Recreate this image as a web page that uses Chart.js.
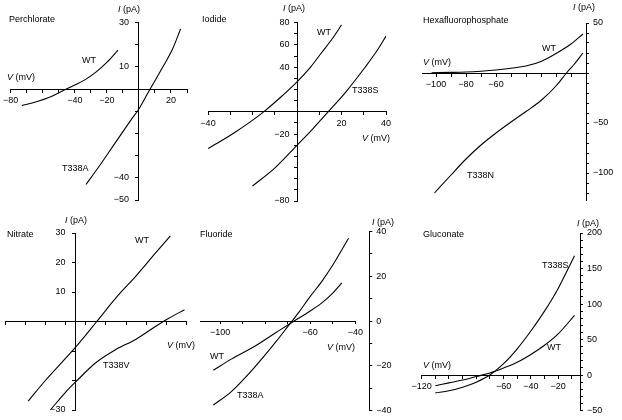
<!DOCTYPE html>
<html>
<head>
<meta charset="utf-8">
<script src="https://cdn.jsdelivr.net/npm/chart.js@4"></script>
<style>
  body { margin: 0; background: #fff; }
  #fig { position: relative; width: 622px; height: 420px; overflow: hidden;
         font-family: "Liberation Sans", Arial, sans-serif; font-size: 9px; color: #000; }
  #fig canvas { position: absolute; left: 0; top: 0; }
  .t { position: absolute; white-space: nowrap; line-height: 10px; }
  .t i { font-style: italic; }
</style>
</head>
<body>
<div id="fig">
  <canvas id="p1" width="622" height="420"></canvas>
  <canvas id="p2" width="622" height="420"></canvas>
  <canvas id="p3" width="622" height="420"></canvas>
  <canvas id="p4" width="622" height="420"></canvas>
  <canvas id="p5" width="622" height="420"></canvas>
  <canvas id="p6" width="622" height="420"></canvas>

  <div class="t" style="left:9px;top:14px">Perchlorate</div>
  <div class="t" style="left:118px;top:4px"><i>I</i> (pA)</div>
  <div class="t" style="left:7px;top:72px"><i>V</i> (mV)</div>
  <div class="t" style="left:82px;top:55px">WT</div>
  <div class="t" style="left:62px;top:163px">T338A</div>

  <div class="t" style="left:202px;top:14px">Iodide</div>
  <div class="t" style="left:283px;top:3px"><i>I</i> (pA)</div>
  <div class="t" style="left:362px;top:133px"><i>V</i> (mV)</div>
  <div class="t" style="left:317px;top:27px">WT</div>
  <div class="t" style="left:352px;top:85px">T338S</div>

  <div class="t" style="left:423px;top:15px">Hexafluorophosphate</div>
  <div class="t" style="left:573px;top:2px"><i>I</i> (pA)</div>
  <div class="t" style="left:423px;top:57px"><i>V</i> (mV)</div>
  <div class="t" style="left:542px;top:43px">WT</div>
  <div class="t" style="left:467px;top:170px">T338N</div>

  <div class="t" style="left:7px;top:229px">Nitrate</div>
  <div class="t" style="left:65px;top:215px"><i>I</i> (pA)</div>
  <div class="t" style="left:167px;top:340px"><i>V</i> (mV)</div>
  <div class="t" style="left:135px;top:235px">WT</div>
  <div class="t" style="left:103px;top:360px">T338V</div>

  <div class="t" style="left:200px;top:229px">Fluoride</div>
  <div class="t" style="left:372px;top:217px"><i>I</i> (pA)</div>
  <div class="t" style="left:327px;top:342px"><i>V</i> (mV)</div>
  <div class="t" style="left:210px;top:351px">WT</div>
  <div class="t" style="left:237px;top:390px">T338A</div>

  <div class="t" style="left:423px;top:229px">Gluconate</div>
  <div class="t" style="left:577px;top:218px"><i>I</i> (pA)</div>
  <div class="t" style="left:423px;top:360px"><i>V</i> (mV)</div>
  <div class="t" style="left:542px;top:260px">T338S</div>
  <div class="t" style="left:547px;top:342px">WT</div>
</div>

<script>
// ---- data (V in mV, I in pA) ----
// Perchlorate
const perchlorateV_WT = [-73, -65, -55, -48, -40, -34, -27, -20, -13];
const perchlorateI_WT = [-7.5, -6, -3.5, -1, 1.8, 4, 7.5, 12, 17.5];
const perchlorateV_T338A = [-33, -25, -15, -5, 0, 7, 15, 21, 26];
const perchlorateI_T338A = [-43, -35, -24.5, -14, -9, 0, 10, 18, 27];
const perchlorateXLabels = [-80, -40, -20, 20];
const perchlorateYLabels = [30, 10, -40, -50];

// Iodide
const iodideV_WT = [-40, -34, -28, -21, -15, -8, 0, 6, 11, 16, 20];
const iodideI_WT = [-33, -26, -18.5, -9, 0, 12, 27, 40, 53, 66, 78];
const iodideV_T338S = [-20, -10, 0, 7, 14, 22, 30.6, 36, 40];
const iodideI_T338S = [-66.5, -50.5, -30, -15.5, 0, 18, 40, 55, 68];
const iodideXLabels = [-40, 20, 40];
const iodideYLabels = [80, 60, 40, -20, -80];

// Hexafluorophosphate
const hexaV_WT = [-103, -90, -80, -70, -60, -50, -40, -30, -20, -10, -2];
const hexaI_WT = [0.3, 0.6, 1, 1.8, 3, 4.8, 7, 11.5, 19.5, 29, 39];
const hexaV_T338N = [-101, -90, -80, -70, -60, -50, -40, -30, -20, -13, -8, -2];
const hexaI_T338N = [-120, -102, -86, -72, -60, -49, -38.5, -27.5, -13, 0, 8.5, 20];
const hexaXLabels = [-100, -80, -60];
const hexaYLabels = [50, -50, -100];

// Nitrate
const nitrateV_WT = [-23.5, -15, -5, 0, 10.5, 20, 30, 40, 47];
const nitrateI_WT = [-27, -20, -12.5, -8.7, 0, 8, 15.5, 23.5, 29];
const nitrateV_T338V = [-12.5, -5, 0, 10, 20, 30, 40, 46, 54];
const nitrateI_T338V = [-30, -24, -20.5, -14, -9.5, -6, -1.5, 1, 4];
const nitrateXLabels = [-20, 20, 40];
const nitrateYLabels = [30, 20, 10, -30];

// Fluoride
const fluorideV_WT = [-103, -95, -85, -75, -68, -60, -55, -50, -46];
const fluorideI_WT = [-22, -17, -11.5, -5, -0.5, 4.5, 8, 12.5, 17];
const fluorideV_T338A = [-103, -95, -85, -75, -70, -65, -60, -55, -50, -43];
const fluorideI_T338A = [-37.5, -31.5, -21, -9, -2.5, 4, 11, 17.5, 25, 37];
const fluorideXLabels = [-100, -60, -40];
const fluorideYLabels = [40, 20, 0, -20, -40];

// Gluconate
const gluconateV = [-110, -100, -90, -80, -70, -60, -50, -40, -30, -20, -8];
const gluconateI_WT = [-15, -11, -7, -2, 3, 10, 18, 29, 42, 58, 84];
const gluconateI_T338S = [-25, -22, -17, -10, 0, 16, 37, 62, 90, 122, 168];
const gluconateXLabels = [-120, -60, -40, -20];
const gluconateYLabels = [200, 150, 100, 50, 0, -50];

// ---- drawing ----
const W = 622, H = 420;
const RIGHT_AXIS_W = 40;

Chart.defaults.font.family = '"Liberation Sans", Arial, sans-serif';
Chart.defaults.font.size = 9;
Chart.defaults.color = '#000';

function fmt(v) {
  return v < 0 ? '\u2212' + Math.abs(v) : String(v);
}

function pairs(vs, is) {
  return vs.map((v, k) => ({ x: v, y: is[k] }));
}

// draws the V axis line only up to xs.lineEnd (used where it stops short of the I axis)
const shortAxisLine = {
  id: 'shortAxisLine',
  afterDraw(chart, args, opts) {
    if (opts.end === undefined) return;
    const { x, y } = chart.scales;
    const ctx = chart.ctx;
    const py = Math.round(y.getPixelForValue(0)) + 0.5;
    ctx.save();
    ctx.strokeStyle = '#000';
    ctx.lineWidth = 1;
    ctx.beginPath();
    ctx.moveTo(x.getPixelForValue(x.min), py);
    ctx.lineTo(x.getPixelForValue(opts.end), py);
    ctx.stroke();
    ctx.restore();
  }
};

// area = page position of the plot box (axis extents)
function makePanel(id, area, xs, ys, series) {
  const rightAxis = ys.side === 'right';
  const padRight = W - area.right - (rightAxis ? RIGHT_AXIS_W : 0);
  // labels of an axis sitting inside the plot are right-aligned on the line, so pad them
  const tail = rightAxis ? '' : ' '.repeat(ys.gap || 3);

  new Chart(document.getElementById(id), {
    type: 'line',
    data: {
      datasets: series.map(s => ({
        data: pairs(s.v, s.i),
        borderColor: '#000',
        borderWidth: 1.1,
        pointRadius: 0,
        cubicInterpolationMode: 'monotone',
        fill: false
      }))
    },
    plugins: [shortAxisLine],
    options: {
      responsive: false,
      animation: false,
      events: [],
      layout: { padding: { left: area.left, top: area.top, right: padRight, bottom: H - area.bottom } },
      plugins: {
        legend: { display: false },
        tooltip: { enabled: false },
        shortAxisLine: { end: xs.lineEnd }
      },
      scales: {
        x: {
          type: 'linear',
          min: xs.min, max: xs.max,
          position: { y: 0 },
          afterFit: s => { s.height = 0; },
          grid: { drawOnChartArea: false, drawTicks: true, tickLength: 3, color: '#000' },
          border: { display: xs.lineEnd === undefined, color: '#000', width: 1 },
          ticks: {
            stepSize: 10, includeBounds: false, autoSkip: false,
            maxRotation: 0, minRotation: 0, padding: 3,
            callback: v => xs.labels.includes(v) ? fmt(v) : ''
          }
        },
        y: {
          type: 'linear',
          min: ys.min, max: ys.max,
          position: rightAxis ? 'right' : { x: ys.at },
          afterFit: s => { s.width = rightAxis ? RIGHT_AXIS_W : 0; },
          grid: { drawOnChartArea: false, drawTicks: true, tickLength: 3, color: '#000' },
          border: { display: true, color: '#000', width: 1 },
          ticks: {
            stepSize: 10, includeBounds: false, autoSkip: false, padding: 4,
            callback: v => ys.labels.includes(v) ? fmt(v) + tail : ''
          }
        }
      }
    }
  });
}

makePanel('p1', { left: 8.5, top: 22.4, right: 187, bottom: 200 },
  { min: -80, max: 30, labels: perchlorateXLabels },
  { min: -50, max: 30, at: 0, gap: 4, labels: perchlorateYLabels },
  [{ v: perchlorateV_WT, i: perchlorateI_WT }, { v: perchlorateV_T338A, i: perchlorateI_T338A }]);

makePanel('p2', { left: 208, top: 22.7, right: 386, bottom: 201 },
  { min: -40, max: 40, labels: iodideXLabels },
  { min: -80, max: 80, at: 0, gap: 3, labels: iodideYLabels },
  [{ v: iodideV_WT, i: iodideI_WT }, { v: iodideV_T338S, i: iodideI_T338S }]);

makePanel('p3', { left: 422.5, top: 23, right: 586, bottom: 200 },
  { min: -109, max: 0, labels: hexaXLabels },
  { min: -127, max: 50, side: 'right', labels: hexaYLabels },
  [{ v: hexaV_WT, i: hexaI_WT }, { v: hexaV_T338N, i: hexaI_T338N }]);

makePanel('p4', { left: 5, top: 233, right: 186.5, bottom: 410 },
  { min: -35, max: 55, labels: nitrateXLabels },
  { min: -30, max: 30, at: 0, gap: 4, labels: nitrateYLabels },
  [{ v: nitrateV_WT, i: nitrateI_WT }, { v: nitrateV_T338V, i: nitrateI_T338V }]);

makePanel('p5', { left: 200, top: 231.5, right: 369.3, bottom: 411.5 },
  { min: -108.9, max: -33.8, lineEnd: -40, labels: fluorideXLabels },
  { min: -40, max: 40, side: 'right', labels: fluorideYLabels },
  [{ v: fluorideV_WT, i: fluorideI_WT }, { v: fluorideV_T338A, i: fluorideI_T338A }]);

makePanel('p6', { left: 421.7, top: 233, right: 580, bottom: 411.7 },
  { min: -120, max: -4, labels: gluconateXLabels },
  { min: -50, max: 200, side: 'right', labels: gluconateYLabels },
  [{ v: gluconateV, i: gluconateI_WT }, { v: gluconateV, i: gluconateI_T338S }]);
</script>
</body>
</html>
